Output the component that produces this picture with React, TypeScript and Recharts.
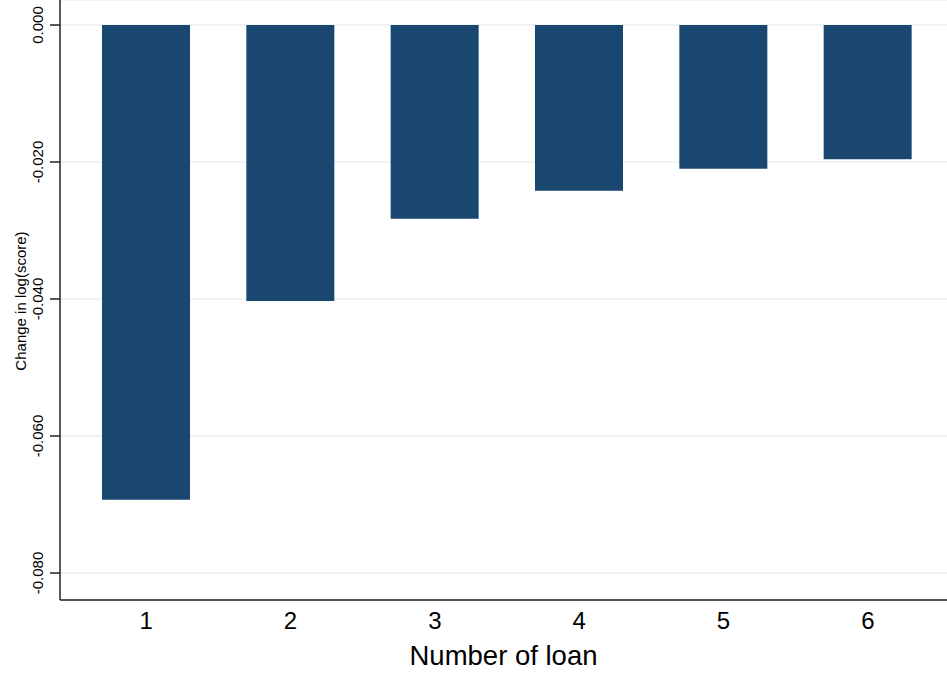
import { BarChart, Bar, XAxis, YAxis, CartesianGrid } from "recharts";

const loans = ["1", "2", "3", "4", "5", "6"];
const changes = [-0.0693, -0.0403, -0.0283, -0.0242, -0.0210, -0.0196];
const yTicks = [0, -0.02, -0.04, -0.06, -0.08];

const data = loans.map((n, i) => ({ n, v: changes[i] }));

const font = "'Liberation Sans', Arial, Helvetica, sans-serif";

function YTick(props: any) {
  const { y, payload } = props;
  const x = 43;
  return (
    <text
      x={x}
      y={y}
      transform={`rotate(-90, ${x}, ${y})`}
      textAnchor="middle"
      fontSize={15}
      fill="#000"
      fontFamily={font}
    >
      {payload.value.toFixed(3)}
    </text>
  );
}

// y-axis title, rotated, sitting left of the tick labels
function YTitle() {
  const x = 26;
  const y = 301;
  return (
    <text
      x={x}
      y={y}
      transform={`rotate(-90, ${x}, ${y})`}
      textAnchor="middle"
      fontSize={15}
      fill="#000"
      fontFamily={font}
    >
      Change in log(score)
    </text>
  );
}

export default function App() {
  return (
    <div style={{ position: "absolute", left: 0, top: 0, width: 947, height: 674, background: "#fff" }}>
      <BarChart
        width={947}
        height={674}
        data={data}
        margin={{ top: 0, right: 0, bottom: 0, left: 0 }}
        barSize={88}
      >
        <CartesianGrid vertical={false} stroke="#e8f0f2" strokeWidth={1.5} />
        <XAxis
          dataKey="n"
          height={74}
          padding={{ left: 14, right: 7 }}
          tickLine={false}
          axisLine={{ stroke: "#222", strokeWidth: 1.5 }}
          tick={{ fontSize: 24, fill: "#000", fontFamily: font }}
          tickSize={6}
          tickMargin={6}
          label={{
            value: "Number of loan",
            position: "insideBottom",
            offset: 9,
            fontSize: 27.5,
            fill: "#000",
            fontFamily: font,
          }}
        />
        <YAxis
          width={60}
          domain={[-0.08394, 0.00365]}
          allowDataOverflow
          ticks={yTicks}
          tickSize={10}
          tickLine={{ stroke: "#222", strokeWidth: 1.5 }}
          axisLine={{ stroke: "#222", strokeWidth: 1.5 }}
          tick={<YTick />}
          label={{ content: () => <YTitle /> }}
        />
        <Bar dataKey="v" fill="#1a476f" isAnimationActive={false} />
      </BarChart>
    </div>
  );
}
